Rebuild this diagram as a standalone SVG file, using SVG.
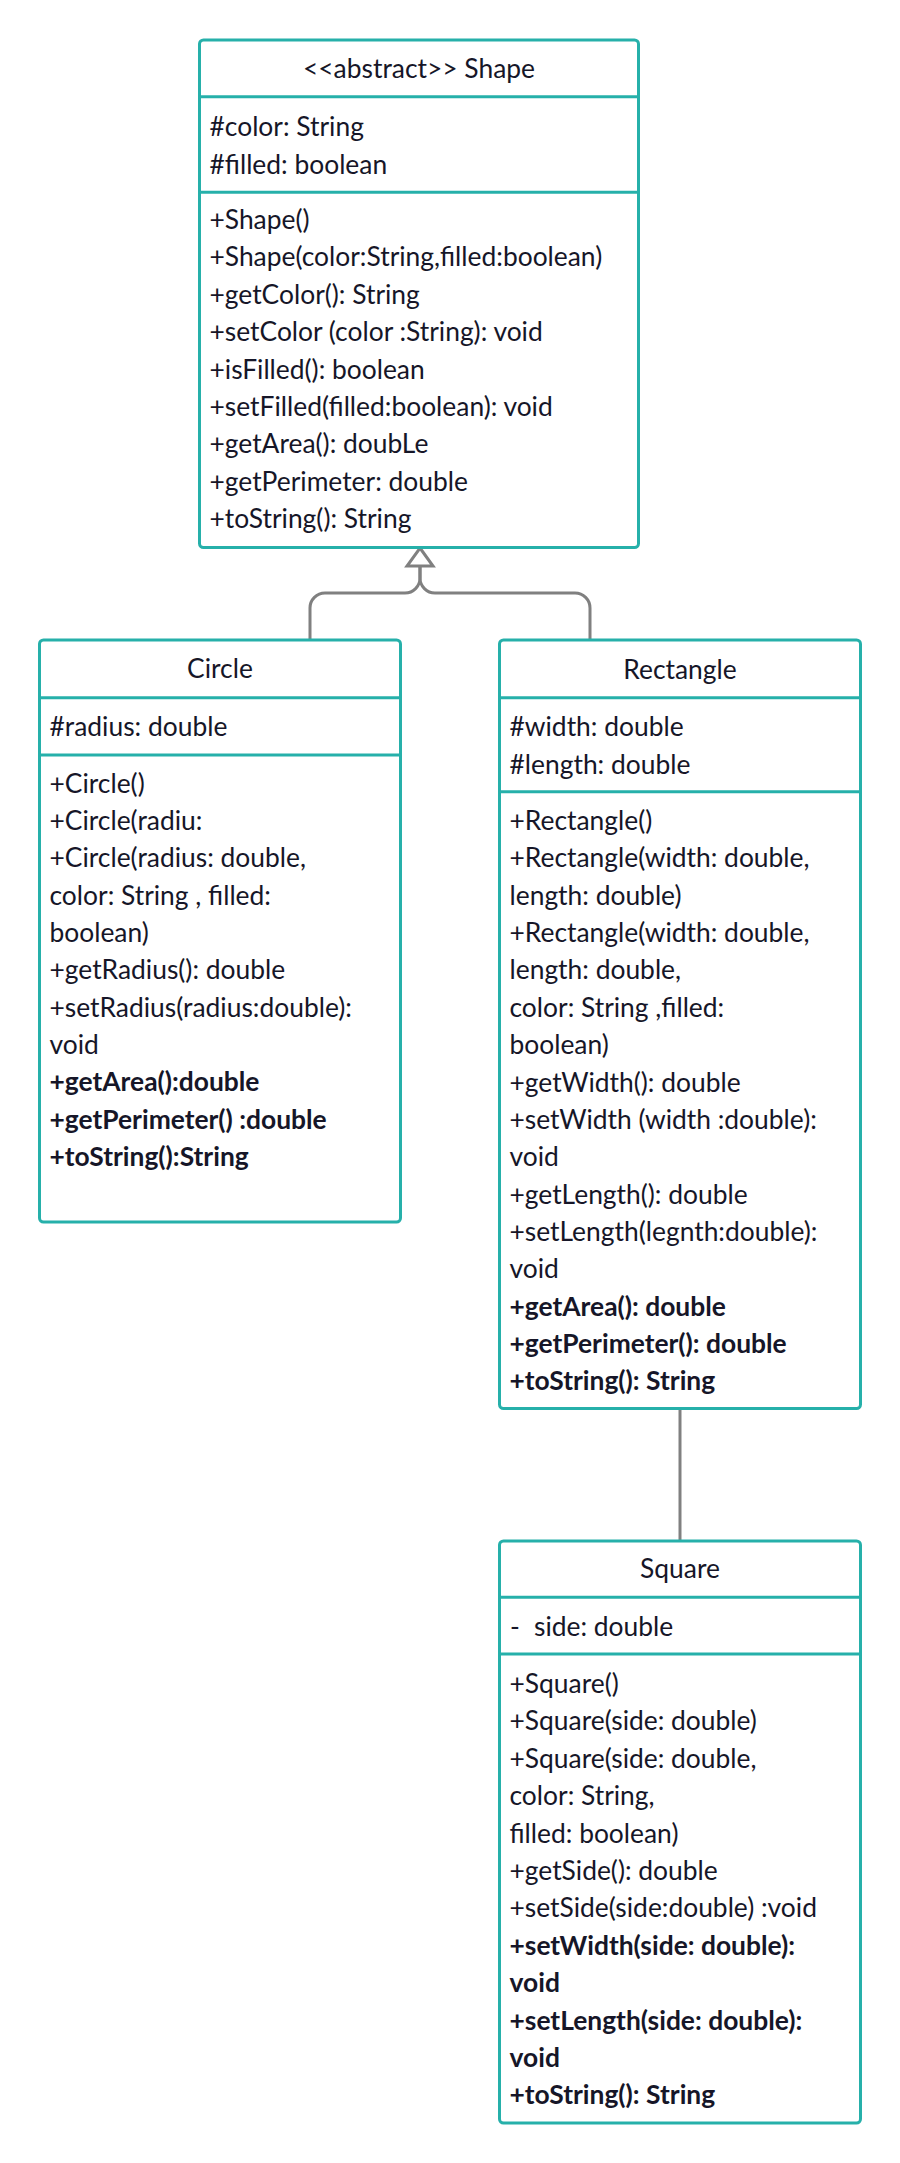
<svg xmlns="http://www.w3.org/2000/svg" width="900" height="2163" viewBox="0 0 900 2163">
<style>
.box{fill:#ffffff;stroke:#26b0aa;stroke-width:3}
.dv{stroke:#26b0aa;stroke-width:3}
.t{font-family:Lato,"Open Sans","Liberation Sans",sans-serif;font-size:26.4px;fill:#161628}
.c{text-anchor:middle}
.b{font-weight:bold}
.conn{fill:none;stroke:#808080;stroke-width:3}
.tri{fill:#ffffff;stroke:#808080;stroke-width:3;stroke-linejoin:miter}
</style>
<rect width="900" height="2163" fill="#ffffff"/>
<g id="connectors">
<path class="conn" d="M420,566 V578 A15,15 0 0 1 405,593 H325 A15,15 0 0 0 310,608 V640"/>
<path class="conn" d="M420,566 V578 A15,15 0 0 0 435,593 H575 A15,15 0 0 1 590,608 V640"/>
<polygon class="tri" points="420,548 433,566 407,566"/>
<path class="conn" d="M680,1409 V1541"/>
</g>
<g id="shape">
<rect class="box" x="199.5" y="40" width="439" height="507.5" rx="4"/>
<line class="dv" x1="199.5" y1="96.7" x2="638.5" y2="96.7"/>
<line class="dv" x1="199.5" y1="192.3" x2="638.5" y2="192.3"/>
<text class="t c" x="419" y="78">&lt;&lt;abstract&gt;&gt; Shape</text>
<text class="t"><tspan x="209.5" y="136">#color: String</tspan><tspan x="209.5" y="174">#filled: boolean</tspan></text>
<text class="t">
<tspan x="209.5" y="229">+Shape()</tspan>
<tspan x="209.5" y="266.4">+Shape(color:String,filled:boolean)</tspan>
<tspan x="209.5" y="303.8">+getColor(): String</tspan>
<tspan x="209.5" y="341.2">+setColor (color :String): void</tspan>
<tspan x="209.5" y="378.6">+isFilled(): boolean</tspan>
<tspan x="209.5" y="416">+setFilled(filled:boolean): void</tspan>
<tspan x="209.5" y="453.4">+getArea(): doubLe</tspan>
<tspan x="209.5" y="490.8">+getPerimeter: double</tspan>
<tspan x="209.5" y="528.2">+toString(): String</tspan>
</text>
</g>
<g id="circle">
<rect class="box" x="39.5" y="640" width="361" height="582" rx="4"/>
<line class="dv" x1="39.5" y1="697.7" x2="400.5" y2="697.7"/>
<line class="dv" x1="39.5" y1="755" x2="400.5" y2="755"/>
<text class="t c" x="220" y="678">Circle</text>
<text class="t" x="49.5" y="736">#radius: double</text>
<text class="t">
<tspan x="49.5" y="792.5">+Circle()</tspan>
<tspan x="49.5" y="829.9">+Circle(radiu:</tspan>
<tspan x="49.5" y="867.2">+Circle(radius: double,</tspan>
<tspan x="49.5" y="904.6">color: String , filled:</tspan>
<tspan x="49.5" y="941.9">boolean)</tspan>
<tspan x="49.5" y="979.3">+getRadius(): double</tspan>
<tspan x="49.5" y="1016.6">+setRadius(radius:double):</tspan>
<tspan x="49.5" y="1054">void</tspan>
<tspan class="b" x="49.5" y="1091.3">+getArea():double</tspan>
<tspan class="b" x="49.5" y="1128.7">+getPerimeter() :double</tspan>
<tspan class="b" x="49.5" y="1166">+toString():String</tspan>
</text>
</g>
<g id="rectangle">
<rect class="box" x="499.5" y="640" width="361" height="768.5" rx="4"/>
<line class="dv" x1="499.5" y1="697.7" x2="860.5" y2="697.7"/>
<line class="dv" x1="499.5" y1="791.7" x2="860.5" y2="791.7"/>
<text class="t c" x="680" y="679">Rectangle</text>
<text class="t"><tspan x="509.5" y="736">#width: double</tspan><tspan x="509.5" y="773.5">#length: double</tspan></text>
<text class="t">
<tspan x="509.5" y="830">+Rectangle()</tspan>
<tspan x="509.5" y="867.4">+Rectangle(width: double,</tspan>
<tspan x="509.5" y="904.7">length: double)</tspan>
<tspan x="509.5" y="942.1">+Rectangle(width: double,</tspan>
<tspan x="509.5" y="979.4">length: double,</tspan>
<tspan x="509.5" y="1016.8">color: String ,filled:</tspan>
<tspan x="509.5" y="1054.1">boolean)</tspan>
<tspan x="509.5" y="1091.5">+getWidth(): double</tspan>
<tspan x="509.5" y="1128.8">+setWidth (width :double):</tspan>
<tspan x="509.5" y="1166.2">void</tspan>
<tspan x="509.5" y="1203.5">+getLength(): double</tspan>
<tspan x="509.5" y="1240.9">+setLength(legnth:double):</tspan>
<tspan x="509.5" y="1278.2">void</tspan>
<tspan class="b" x="509.5" y="1315.6">+getArea(): double</tspan>
<tspan class="b" x="509.5" y="1352.9">+getPerimeter(): double</tspan>
<tspan class="b" x="509.5" y="1390.3">+toString(): String</tspan>
</text>
</g>
<g id="square">
<rect class="box" x="499.5" y="1541" width="361" height="582" rx="4"/>
<line class="dv" x1="499.5" y1="1597.3" x2="860.5" y2="1597.3"/>
<line class="dv" x1="499.5" y1="1654" x2="860.5" y2="1654"/>
<text class="t c" x="680" y="1578">Square</text>
<text class="t"><tspan x="510" y="1636">-</tspan><tspan x="534" y="1636">side: double</tspan></text>
<text class="t">
<tspan x="509.5" y="1693">+Square()</tspan>
<tspan x="509.5" y="1730.4">+Square(side: double)</tspan>
<tspan x="509.5" y="1767.8">+Square(side: double,</tspan>
<tspan x="509.5" y="1805.2">color: String,</tspan>
<tspan x="509.5" y="1842.6">filled: boolean)</tspan>
<tspan x="509.5" y="1880">+getSide(): double</tspan>
<tspan x="509.5" y="1917.4">+setSide(side:double) :void</tspan>
<tspan class="b" x="509.5" y="1954.8">+setWidth(side: double):</tspan>
<tspan class="b" x="509.5" y="1992.2">void</tspan>
<tspan class="b" x="509.5" y="2029.6">+setLength(side: double):</tspan>
<tspan class="b" x="509.5" y="2067">void</tspan>
<tspan class="b" x="509.5" y="2104.4">+toString(): String</tspan>
</text>
</g>
</svg>
